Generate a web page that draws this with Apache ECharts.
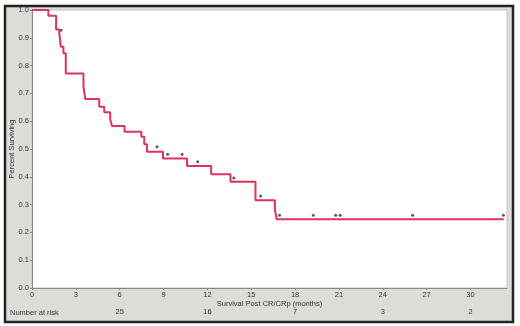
<!DOCTYPE html>
<html>
<head>
<meta charset="utf-8">
<script src="https://cdn.jsdelivr.net/npm/echarts@6/dist/echarts.min.js"></script>
<style>
  html, body { margin: 0; padding: 0; background: #fff; }
  #chart { width: 520px; height: 326px; }
</style>
</head>
<body>
<div id="chart"></div>
<script>
// Kaplan-Meier steps: time (months) where survival drops, and survival after the drop
const eventTimes = [0, 1.12, 1.65, 1.87, 1.97, 2.15, 2.31, 3.52, 3.64, 4.60, 4.94, 5.35, 5.47,
                    6.33, 7.48, 7.68, 7.87, 8.96, 10.61, 12.26, 13.58, 15.29, 16.62, 16.74, 32.28];
const survival   = [1.0, 0.979, 0.930, 0.916, 0.868, 0.844, 0.772, 0.726, 0.680, 0.652, 0.632, 0.607, 0.583,
                    0.562, 0.544, 0.517, 0.490, 0.466, 0.439, 0.409, 0.382, 0.316, 0.282, 0.247, 0.247];

// censored observations (dots drawn just above the curve)
const censorTimes  = [1.99, 8.55, 9.28, 10.27, 11.34, 13.81, 15.64, 16.94, 19.25, 20.78, 21.08, 26.04, 32.26];
const censorValues = [0.927, 0.508, 0.481, 0.481, 0.454, 0.396, 0.331, 0.262, 0.262, 0.262, 0.262, 0.262, 0.262];

// number at risk row
const riskMonths = [6, 12, 18, 24, 30];
const riskCounts = [25, 16, 7, 3, 2];

const chart = echarts.init(document.getElementById('chart'));

const font = 'Liberation Sans, Arial, sans-serif';
const kmData = eventTimes.map((t, i) => [t, survival[i]]);
const censorData = censorTimes.map((t, i) => [t, censorValues[i]]);

const option = {
    animation: false,
    graphic: [
        {
            type: 'rect',
            z: -10,
            shape: { x: 5, y: 6, width: 508, height: 316 },
            style: { fill: '#dddcd6', stroke: '#222', lineWidth: 2.5 }
        },
        {
            type: 'text',
            left: 10,
            top: 309,
            style: { text: 'Number at risk', fontSize: 7.5, fontFamily: font, fill: '#333' }
        }
    ],
    grid: {
        left: 32,
        right: 13,
        top: 10,
        bottom: 38,
        outerBoundsMode: 'none',
        show: true,
        backgroundColor: '#fff',
        borderColor: '#c4c4c4',
        borderWidth: 1
    },
    xAxis: [
        {
            type: 'value',
            min: 0,
            max: 32.5,
            interval: 3,
            name: 'Survival Post CR/CRp (months)',
            nameLocation: 'middle',
            nameGap: 12,
            nameMoveOverlap: false,
            nameTextStyle: { fontSize: 7.5, fontFamily: font, color: '#333' },
            axisLine: { lineStyle: { color: '#888' } },
            axisTick: { length: 2, lineStyle: { color: '#888' } },
            axisLabel: { fontSize: 7.5, fontFamily: font, color: '#333', margin: 3, showMaxLabel: false },
            splitLine: { show: false }
        },
        {
            type: 'value',
            min: 0,
            max: 32.5,
            interval: 6,
            position: 'bottom',
            offset: 18,
            axisLine: { show: false },
            axisTick: { show: false },
            splitLine: { show: false },
            axisLabel: {
                fontSize: 7.5, fontFamily: font, color: '#333', margin: 2, showMaxLabel: false,
                formatter: v => {
                    const i = riskMonths.indexOf(v);
                    return i >= 0 ? String(riskCounts[i]) : '';
                }
            }
        }
    ],
    yAxis: {
        type: 'value',
        min: 0,
        max: 1,
        interval: 0.1,
        name: 'Percent Surviving',
        nameLocation: 'middle',
        nameGap: 16,
        nameMoveOverlap: false,
        nameTextStyle: { fontSize: 7.5, fontFamily: font, color: '#333' },
        axisLine: { show: true, lineStyle: { color: '#888' } },
        axisTick: { show: true, length: 2, lineStyle: { color: '#888' } },
        axisLabel: { fontSize: 7.5, fontFamily: font, color: '#333', margin: 3, formatter: v => v.toFixed(1) },
        splitLine: { show: false }
    },
    series: [
        {
            type: 'line',
            step: 'end',
            data: kmData,
            symbol: 'none',
            lineStyle: { color: '#e0335c', width: 2 }
        },
        {
            type: 'scatter',
            data: censorData,
            symbol: 'circle',
            symbolSize: 3,
            itemStyle: { color: '#333' }
        }
    ]
};

chart.setOption(option);
</script>
</body>
</html>
